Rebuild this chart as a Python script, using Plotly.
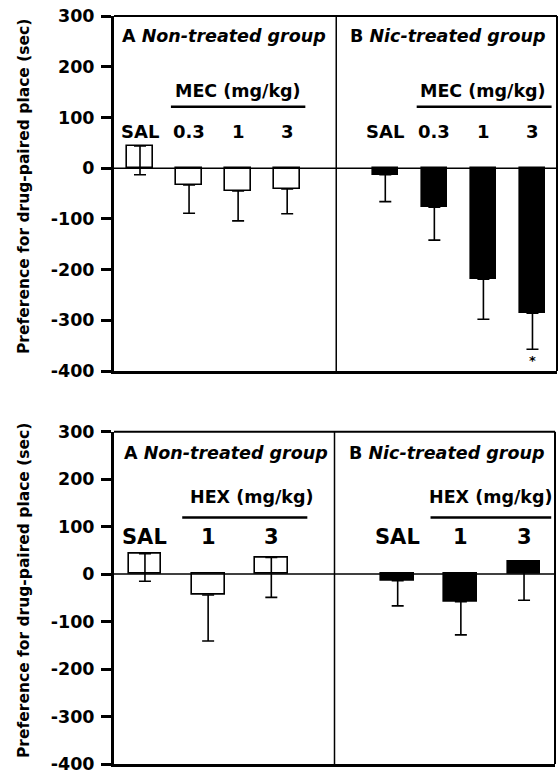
import plotly.graph_objects as go

# ---------------- data ----------------
mec_doses = ["SAL", "0.3", "1", "3"]
mec_non_mean = [44, -33, -45, -41]
mec_non_sem = [57, 56, 59, 49]
mec_nic_mean = [-13, -77, -219, -286]
mec_nic_sem = [53, 65, 79, 71]

hex_doses = ["SAL", "1", "3"]
hex_non_mean = [43, -44, 35]
hex_non_sem = [58, 97, 84]
hex_nic_mean = [-14, -58, 27]
hex_nic_sem = [53, 70, 82]

y_tick_vals = [300, 200, 100, 0, -100, -200, -300, -400]
y_tick_text = ["300", "200", "100", "0", "-100", "-200", "-300", "-400"]

group_a_title = "A <i>Non-treated group</i>"
group_b_title = "B <i>Nic-treated group</i>"
mec_label = "MEC (mg/kg)"
hex_label = "HEX (mg/kg)"
y_title = "Preference for drug-paired place (sec)"

FONT = "DejaVu Sans"
W, H = 558, 776

fig = go.Figure()
annotations = []
shapes = []


def panel(ax, doses, non_mean, non_sem, nic_mean, nic_sem, drug_label,
          xrange_, ydom, ypos, b_title_x, drug_text_x, ul_off, dose_size, ytitle_y,
          star_idx=None):
    n = len(doses)
    xa = list(range(n))
    xb = [i + n + 1 for i in range(n)]
    xref = "x" + ax
    yref = "y" + ax
    common = dict(width=0.52, marker_line_color="black", marker_line_width=1.6,
                  showlegend=False, xaxis="x" + ax, yaxis="y" + ax)
    fig.add_trace(go.Bar(x=xa, y=non_mean, marker_color="white",
                         error_y=dict(type="data", symmetric=False,
                                      array=[0] * n, arrayminus=non_sem,
                                      color="black", thickness=1.6, width=6),
                         **common))
    fig.add_trace(go.Bar(x=xb, y=nic_mean, marker_color="black",
                         error_y=dict(type="data", symmetric=False,
                                      array=[0] * n, arrayminus=nic_sem,
                                      color="black", thickness=1.6, width=6),
                         **common))
    ytitle, ydrug, yul, ydose = ypos
    tfont = dict(family=FONT, size=17.5, weight="bold", color="black")
    annotations.append(dict(x=xrange_[0] + 0.12, y=ytitle, xref=xref, yref=yref,
                            text=group_a_title, showarrow=False, xanchor="left",
                            yanchor="middle", font=tfont))
    annotations.append(dict(x=b_title_x, y=ytitle, xref=xref, yref=yref,
                            text=group_b_title, showarrow=False, xanchor="left",
                            yanchor="middle", font=tfont))
    for xs in (xa, xb):
        for x, d in zip(xs, doses):
            annotations.append(dict(x=x, y=ydose, xref=xref, yref=yref, text=d,
                                    showarrow=False, yanchor="middle",
                                    font=dict(family=FONT, size=dose_size, weight="bold",
                                              color="black")))
    for xs, tx, (o0, o1) in ((xa, drug_text_x[0], ul_off[0]), (xb, drug_text_x[1], ul_off[1])):
        annotations.append(dict(x=tx, y=ydrug, xref=xref, yref=yref, text=drug_label,
                                showarrow=False, yanchor="middle", font=tfont))
        shapes.append(dict(type="line", xref=xref, yref=yref, x0=xs[1] + o0, x1=xs[-1] + o1,
                           y0=yul, y1=yul, line=dict(color="black", width=2.5)))
    shapes.append(dict(type="line", xref=xref + " domain", yref=yref, x0=0, x1=1, y0=0, y1=0,
                       line=dict(color="black", width=1.5)))
    shapes.append(dict(type="line", xref=xref, yref=yref + " domain", x0=n, x1=n, y0=0, y1=1,
                       line=dict(color="black", width=1.5)))
    shapes.append(dict(type="line", xref=xref + " domain", yref=yref + " domain",
                       x0=0, x1=1, y0=1, y1=1, line=dict(color="black", width=2)))
    shapes.append(dict(type="line", xref=xref + " domain", yref=yref + " domain",
                       x0=1, x1=1, y0=0, y1=1, line=dict(color="black", width=2)))
    if star_idx is not None:
        annotations.append(dict(x=xb[star_idx], y=-380, xref=xref, yref=yref, text="*",
                                showarrow=False, yanchor="middle",
                                font=dict(family=FONT, size=13, weight="bold", color="black")))
    annotations.append(dict(x=24 / W, y=ytitle_y, xref="paper", yref="paper",
                            xanchor="center", yanchor="middle",
                            text=y_title, textangle=-90, showarrow=False,
                            font=dict(family=FONT, size=15.5, weight="bold", color="black")))


top_dom = [1 - 371 / H, 1 - 16 / H]
bot_dom = [1 - 764 / H, 1 - 431.7 / H]

panel("", mec_doses, mec_non_mean, mec_non_sem, mec_nic_mean, mec_nic_sem, mec_label,
      [-0.53, 8.5], top_dom, (260, 152, 121, 73), 4.24, (2.0, 7.0),
      ((-0.37, 0.37), (-0.36, 0.39)), 18, 1 - 187 / H, star_idx=3)
panel("2", hex_doses, hex_non_mean, hex_non_sem, hex_nic_mean, hex_nic_sem, hex_label,
      [-0.49, 6.49], bot_dom, (255, 163, 119, 78), 3.2, (1.69, 5.47),
      ((-0.41, 0.57), (-0.48, 0.43)), 21, 1 - 591 / H)

xax = dict(showgrid=False, zeroline=False, showticklabels=False, ticks="",
           showline=True, linecolor="black", linewidth=3, fixedrange=True)
yax = dict(showgrid=False, zeroline=False, showline=True, linecolor="black", linewidth=3,
           ticks="outside", ticklen=10, tickwidth=2.5, tickcolor="black",
           tickvals=y_tick_vals, ticktext=y_tick_text, range=[-400, 300],
           tickfont=dict(family=FONT, size=17.5, weight="bold", color="black"),
           ticklabelstandoff=3, automargin=False)

fig.update_layout(
    width=W, height=H,
    autosize=False,
    margin=dict(l=0, r=0, t=0, b=0, pad=0, autoexpand=False),
    paper_bgcolor="white", plot_bgcolor="white",
    bargap=0,
    xaxis=dict(xax, domain=[114 / W, 557 / W], range=[-0.53, 8.5], anchor="y"),
    yaxis=dict(yax, domain=top_dom, anchor="x"),
    xaxis2=dict(xax, domain=[114 / W, 555 / W], range=[-0.49, 6.49], anchor="y2"),
    yaxis2=dict(yax, domain=bot_dom, anchor="x2"),
    annotations=annotations,
    shapes=shapes,
)

fig.write_html("out.html", config={"displayModeBar": False},
               post_script="document.body.style.margin='0';document.body.style.overflow='hidden';")
